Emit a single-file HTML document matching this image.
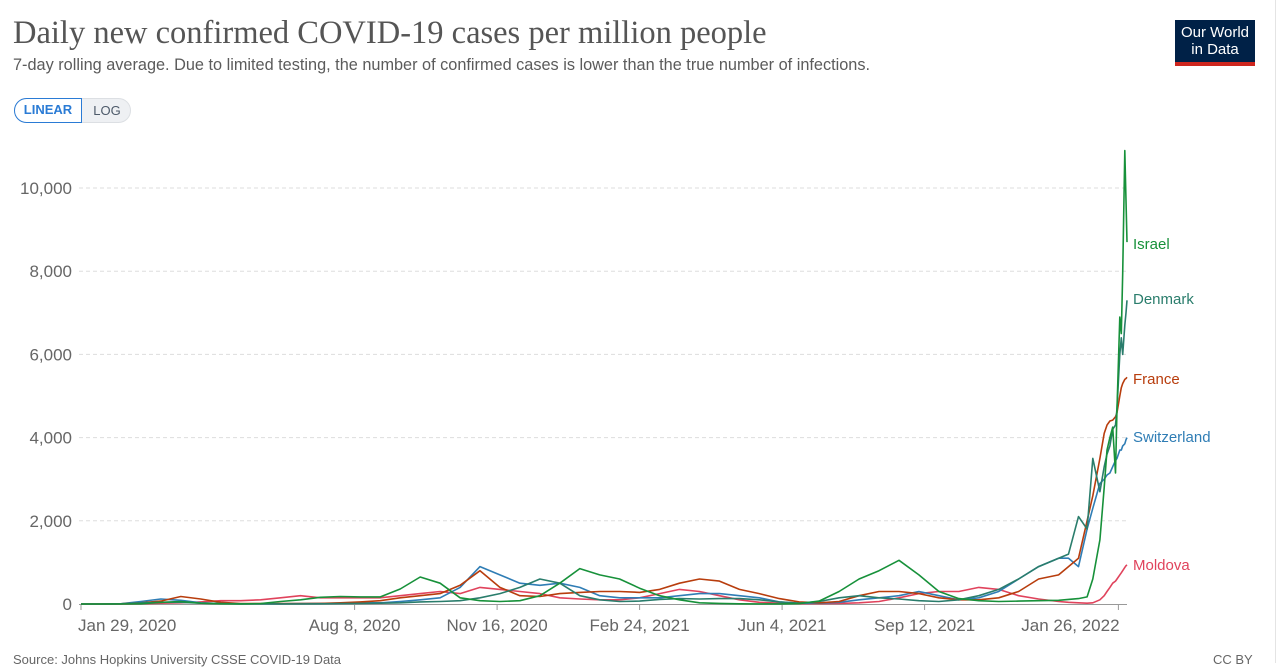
<!DOCTYPE html>
<html><head><meta charset="utf-8"><style>
body{margin:0;width:1280px;height:663px;overflow:hidden;background:#fff;font-family:"Liberation Sans",sans-serif;position:relative}
.t{position:absolute;white-space:nowrap}
</style></head><body>
<div class="t" style="left:13px;top:15px;font-family:'Liberation Serif',serif;font-size:32.5px;color:#555">Daily new confirmed COVID-19 cases per million people</div>
<div class="t" style="left:13px;top:56px;font-size:16.3px;color:#5b5b5b">7-day rolling average. Due to limited testing, the number of confirmed cases is lower than the true number of infections.</div>
<div style="position:absolute;left:14px;top:98px;width:117px;height:25px;border-radius:13px;background:#eef0f3;border:1px solid #dcdfe3;box-sizing:border-box"></div>
<div class="t" style="left:14px;top:98px;width:68px;height:25px;border:1.5px solid #2a7bd5;border-radius:13px 0 0 13px;box-sizing:border-box;background:#fff;color:#2a7bd5;font-size:13px;font-weight:bold;text-align:center;line-height:22px">LINEAR</div>
<div class="t" style="left:84px;top:98px;width:46px;height:25px;color:#4d5a6a;font-size:13px;text-align:center;line-height:25px">LOG</div>
<div style="position:absolute;left:1175px;top:20px;width:80px;height:46px;background:#002147;color:#fff;font-size:15px;line-height:17px;text-align:center;box-sizing:border-box;padding-top:4px;border-bottom:4px solid #ce261e">Our World<br>in Data</div>
<div style="position:absolute;left:1275px;top:0;width:1px;height:663px;background:#e4e4e4"></div>
<svg id="chart" width="1280" height="663" style="position:absolute;left:0;top:0"></svg>
<div class="t" style="left:13px;top:652px;font-size:13px;color:#666">Source: Johns Hopkins University CSSE COVID-19 Data</div>
<div class="t" style="left:1213px;top:652px;font-size:13px;color:#666">CC BY</div>
<script>
const dates=[0,14,28,42,56,70,84,98,112,126,140,154,168,182,196,210,224,238,252,266,280,294,308,322,336,350,364,378,392,406,420,434,448,462,476,490,504,518,532,546,560,574,588,602,616,630,644,658,672,686,693,700,706,710,715,718,720,722,724,726,727,729,730,731,732.5,733.3,734];
const israel=[0,0,0,5,40,60,20,5,3,10,60,100,160,180,170,170,360,650,500,150,80,60,80,200,500,850,700,600,380,200,100,30,15,5,2,2,10,70,300,600,800,1050,700,300,130,80,60,70,80,90,110,130,170,600,1540,2800,3700,4000,4250,3150,4700,6900,6500,7950,10900,9700,8700];
const denmark=[0,0,5,30,40,40,20,10,5,5,3,3,5,10,15,20,30,50,60,80,150,250,400,600,500,200,100,60,70,110,130,120,130,130,100,50,20,60,150,200,150,120,80,60,100,200,350,600,900,1100,1200,2100,1800,3500,2700,3300,3600,3800,4200,4300,4700,6000,6400,6000,6700,7000,7300];
const france=[0,0,5,30,70,180,120,40,10,10,10,10,15,30,50,80,150,200,250,450,800,400,200,180,250,280,300,300,280,350,500,600,550,350,250,130,50,30,60,200,300,300,250,150,100,100,150,300,600,700,900,1100,2000,2600,3500,4100,4300,4400,4420,4500,4600,5000,5200,5300,5400,5420,5450];
const switzerland=[0,0,5,60,120,90,30,10,5,5,5,10,15,20,30,30,60,100,150,400,900,700,500,450,500,400,200,150,150,150,200,250,250,200,150,50,20,20,40,100,150,200,300,200,100,150,300,600,900,1100,1100,900,1800,2300,2900,3000,3100,3150,3300,3450,3500,3700,3700,3800,3850,3950,4000];
const moldova=[0,0,0,5,20,30,50,80,80,100,150,200,150,150,150,150,200,250,300,250,400,350,300,250,150,120,100,100,150,250,350,300,200,100,40,20,10,10,15,30,60,150,250,300,300,400,350,200,120,60,40,30,20,30,100,200,300,400,500,550,600,700,750,800,880,920,940];
const yTicks=[0,2000,4000,6000,8000,10000];
const xTickDays=[0,192,292,392,492,592,728];
const xTickLabels=["Jan 29, 2020","Aug 8, 2020","Nov 16, 2020","Feb 24, 2021","Jun 4, 2021","Sep 12, 2021","Jan 26, 2022"];
const seriesNames=["Moldova","Switzerland","France","Denmark","Israel"];
const seriesColors=["#e0435c","#2f7db5","#b83d0d","#2a7d6c","#17913a"];
const seriesData=[moldova,switzerland,france,denmark,israel];
const labelY=[570,442,384,304,249];

const svg=document.getElementById('chart');
const NS='http://www.w3.org/2000/svg';
const X0=79,X1=1127;
function xs(d){return 81+d*1.425;}
function ys(v){return 604-v*0.0416;}
function mk(tag,attrs){const e=document.createElementNS(NS,tag);for(const k in attrs)e.setAttribute(k,attrs[k]);svg.appendChild(e);return e;}
yTicks.forEach(v=>{
  if(v>0){const g=mk('line',{x1:X0,x2:X1,y1:ys(v),y2:ys(v),stroke:'#ddd','stroke-dasharray':'4,3'});
  
  }
  const t=mk('text',{x:72,y:ys(v)+6,'text-anchor':'end','font-size':17,fill:'#666','font-family':'Liberation Sans, sans-serif'});
  t.textContent=v.toLocaleString('en-US');
  
  
});
const ax=mk('line',{x1:X0,x2:X1,y1:604.5,y2:604.5,stroke:'#999'});


xTickDays.forEach((d,i)=>{
  const tk=mk('line',{x1:xs(d),x2:xs(d),y1:604,y2:610,stroke:'#999'});
  
  
  const anchor=i==0?'start':'middle';
  let tx=i==0?xs(d)-3:xs(d);
  if(i==xTickDays.length-1)tx=xs(d)-48;
  const t=mk('text',{x:tx,y:631,'text-anchor':anchor,'font-size':17,fill:'#666','font-family':'Liberation Sans, sans-serif'});
  t.textContent=xTickLabels[i];
  
  
});
seriesData.forEach((vals,s)=>{
  const p=vals.map((v,i)=>(i?'L':'M')+xs(dates[i]).toFixed(1)+','+ys(v).toFixed(1)).join('');
  const path=mk('path',{d:p,fill:'none',stroke:seriesColors[s],'stroke-width':1.6,'stroke-linejoin':'round'});
  
  
  const t=mk('text',{x:1133,y:labelY[s],'font-size':15,fill:seriesColors[s],'font-family':'Liberation Sans, sans-serif'});
  t.textContent=seriesNames[s];
  
  
});
</script>
</body></html>
